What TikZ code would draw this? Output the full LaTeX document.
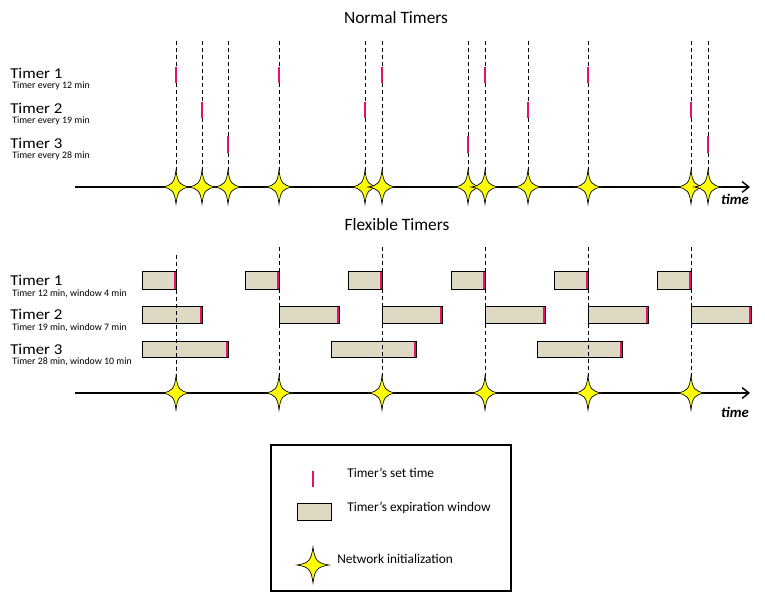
\documentclass[tikz,border=0pt]{standalone}
\usepackage{fontspec}
\setmainfont{Carlito}
\newfontfamily\labfont{Carlito}[FakeStretch=1.12]
\usetikzlibrary{arrows.meta}
\definecolor{markred}{HTML}{E6106A}
\definecolor{winfill}{HTML}{DDD9C3}
\definecolor{staryellow}{HTML}{FFFF00}
\tikzset{
  titletext/.style={font=\fontsize{13}{15}\selectfont, anchor=base, inner sep=0},
  tlabel/.style={font=\labfont\fontsize{11.3}{13}\selectfont, anchor=base west, inner sep=0},
  tsub/.style={font=\fontsize{7.4}{9}\selectfont, anchor=base west, inner sep=0},
  legtext/.style={font=\fontsize{10}{12}\selectfont, anchor=base west, inner sep=0},
  timetext/.style={font=\bfseries\itshape\fontsize{11}{13}\selectfont, anchor=base, inner sep=0},
  guide/.style={dash pattern=on 3pt off 2.25pt, line width=0.6pt},
  setmark/.style={draw=markred, line width=1.8pt},
  win/.style={draw=black, fill=winfill, line width=0.75pt},
  axis/.style={line width=1.1pt, -{Straight Barb[length=5pt,width=8pt]}},
  legbox/.style={draw=black, line width=1.1pt},
  nstar/.pic={
    \path[draw=black, fill=staryellow, line width=0.5pt]
      (0,-17) .. controls (1.5,-4) and (4,-1.5) .. (14,0)
      .. controls (4,1.5) and (1.5,4) .. (0,17)
      .. controls (-1.5,4) and (-4,1.5) .. (-14,0)
      .. controls (-4,-1.5) and (-1.5,-4) .. cycle;
  },
  bigstar/.pic={
    \path[draw=black, fill=staryellow, line width=0.5pt]
      (0,-18) .. controls (1.7,-4.5) and (4.5,-1.7) .. (16,0)
      .. controls (4.5,1.7) and (1.7,4.5) .. (0,18)
      .. controls (-1.7,4.5) and (-4.5,1.7) .. (-16,0)
      .. controls (-4.5,-1.7) and (-1.7,-4.5) .. cycle;
  }
}
\begin{document}
\begin{tikzpicture}[x=0.75pt,y=-0.75pt]
\useasboundingbox (0,0) rectangle (765,609);

% ---------------- Normal timers ----------------
\node[titletext] (t1) at (396,24) {Normal Timers};

\node[tlabel] (n1) at (10,78.5) {Timer 1};
\node[tsub]   (n1s) at (12,89) {Timer every 12 min};
\node[tlabel] (n2) at (10,113.5) {Timer 2};
\node[tsub]   (n2s) at (12,124) {Timer every 19 min};
\node[tlabel] (n3) at (10,148.5) {Timer 3};
\node[tsub]   (n3s) at (12,159) {Timer every 28 min};

\foreach \x [count=\i] in {176,202,228,279,365,382,468,485,528,588,691,708} {
  \coordinate (ta\i) at (\x,41);
  \coordinate (tb\i) at (\x,187);
  \draw[guide] (ta\i) -- (tb\i);
}
\foreach \x in {176,279,382,485,588} \draw[setmark] (\x,67) -- (\x,83);
\foreach \x in {202,365,528,691} \draw[setmark] (\x,102) -- (\x,118);
\foreach \x in {228,468,708} \draw[setmark] (\x,136) -- (\x,153);

\coordinate (axa0) at (75,187);
\coordinate (axa1) at (750,187);
\draw[axis] (axa0) -- (axa1);
\foreach \i in {1,...,12} \pic at (tb\i) {nstar};
\node[timetext] (tm1) at (735,205) {time};

% ---------------- Flexible timers ----------------
\node[titletext] (t2) at (397,231) {Flexible Timers};

\node[tlabel] (f1) at (10,285.5) {Timer 1};
\node[tsub]   (f1s) at (12,297) {Timer 12 min, window 4 min};
\node[tlabel] (f2) at (10,319.5) {Timer 2};
\node[tsub]   (f2s) at (12,331) {Timer 19 min, window 7 min};
\node[tlabel] (f3) at (10,354.5) {Timer 3};
\node[tsub]   (f3s) at (12,365) {Timer 28 min, window 10 min};

% windows
\foreach \r in {176,279,382,485,588,691} {
  \draw[win] (\r-34,272) rectangle (\r,290);
}
\foreach \l/\r in {142/202,279/339,382/442,485/545,588/648,691/751} {
  \draw[win] (\l,307) rectangle (\r,324);
}
\foreach \l/\r in {142/228,331/416,537/622} {
  \draw[win] (\l,342) rectangle (\r,358);
}

% guides
\foreach \x/\y [count=\i] in {176/255,279/247,382/247,485/247,588/247,691/247} {
  \coordinate (fa\i) at (\x,\y);
  \coordinate (fb\i) at (\x,393);
  \draw[guide] (fa\i) -- (fb\i);
}

% set-time marks at window ends
\foreach \r in {176,279,382,485,588,691} \draw[setmark] (\r-1,272.5) -- (\r-1,289.5);
\foreach \r in {202,339,442,545,648,751} \draw[setmark] (\r-1,307.5) -- (\r-1,323.5);
\foreach \r in {228,416,622} \draw[setmark] (\r-1,342.5) -- (\r-1,357.5);

\coordinate (axb0) at (75,393);
\coordinate (axb1) at (750,393);
\draw[axis] (axb0) -- (axb1);
\foreach \i in {1,...,6} \pic at (fb\i) {nstar};
\node[timetext] (tm2) at (735,418) {time};

% ---------------- Legend ----------------
\draw[legbox] (271,445) rectangle (511,591);
\draw[setmark] (313,471) -- (313,487);
\node[legtext] (l1) at (347,478) {Timer’s set time};
\draw[win] (297,504) rectangle (331,521);
\node[legtext] (l2) at (347,512) {Timer’s expiration window};
\coordinate (ls) at (313,565);
\pic at (ls) {bigstar};
\node[legtext] (l3) at (337,564) {Network initialization};
\end{tikzpicture}
\end{document}
